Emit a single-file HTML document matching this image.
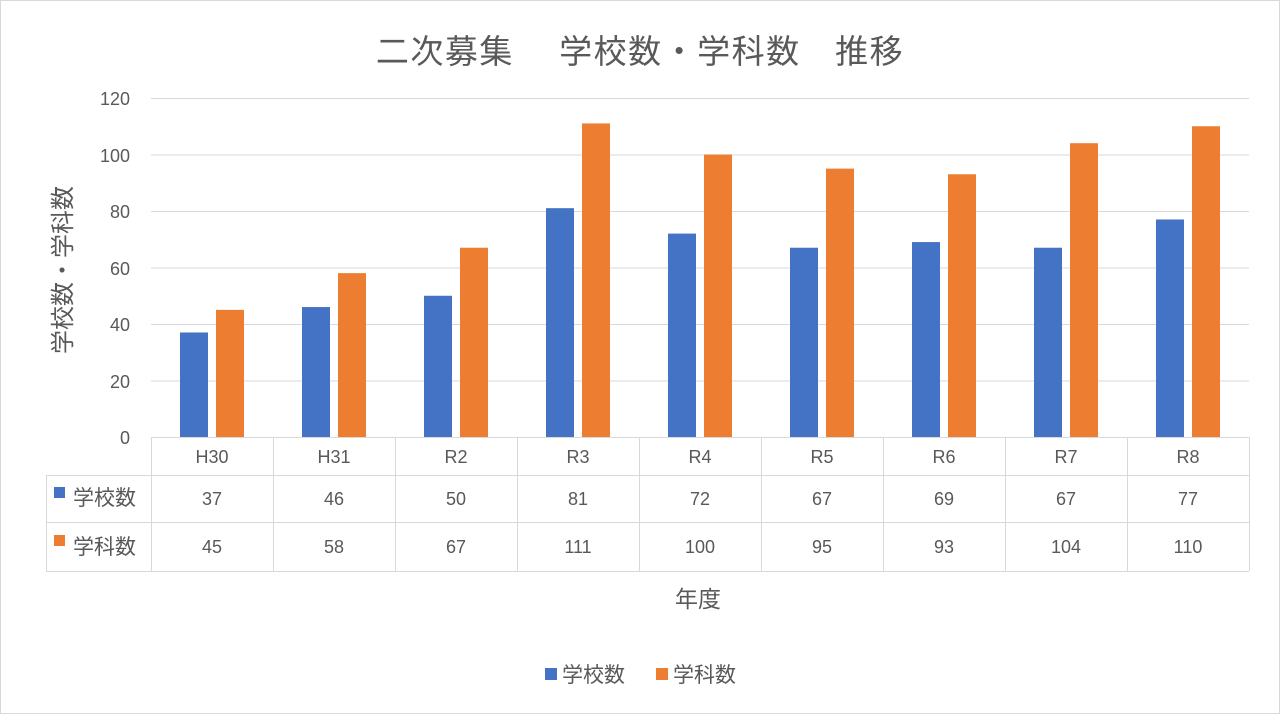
<!DOCTYPE html>
<html><head><meta charset="utf-8"><style>
body{margin:0;background:#fff}
svg text{font-family:"Liberation Sans","Noto Sans CJK JP",sans-serif;fill:#595959}
</style></head><body>
<svg width="1280" height="714" xmlns="http://www.w3.org/2000/svg">
<rect x="0.5" y="0.5" width="1279" height="713" fill="#fff" stroke="#d9d9d9"/>
<text x="640" y="63" font-size="33" text-anchor="middle" letter-spacing="1.5">二次募集　 学校数・学科数　推移</text>
<g stroke="#d9d9d9" stroke-width="1">
<line x1="151" y1="98.5" x2="1249" y2="98.5"/>
<line x1="151" y1="155" x2="1249" y2="155"/>
<line x1="151" y1="211.5" x2="1249" y2="211.5"/>
<line x1="151" y1="268" x2="1249" y2="268"/>
<line x1="151" y1="324.5" x2="1249" y2="324.5"/>
<line x1="151" y1="381" x2="1249" y2="381"/>
</g>
<g font-size="18" text-anchor="end">
<text x="130" y="444">0</text><text x="130" y="388">20</text><text x="130" y="331">40</text><text x="130" y="275">60</text><text x="130" y="218">80</text><text x="130" y="162">100</text><text x="130" y="105">120</text>
</g>
<text transform="translate(71,270) rotate(-90)" font-size="24" text-anchor="middle">学校数・学科数</text>
<g id="bars"></g>
<g stroke="#d9d9d9" stroke-width="1" fill="none">
<line x1="151" y1="437.5" x2="1249" y2="437.5"/>
<line x1="46" y1="475.5" x2="1249" y2="475.5"/>
<line x1="46" y1="522.5" x2="1249" y2="522.5"/>
<line x1="46" y1="571.5" x2="1249" y2="571.5"/>
<line x1="46.5" y1="475" x2="46.5" y2="571"/>
<line x1="1249.5" y1="437" x2="1249.5" y2="571"/>
</g>
<g id="tbl" font-size="18" text-anchor="middle"></g>
<rect x="54" y="487" width="11" height="11" fill="#4472c4"/>
<text x="73" y="505" font-size="21">学校数</text>
<rect x="54" y="535" width="11" height="11" fill="#ed7d31"/>
<text x="73" y="554" font-size="21">学科数</text>
<text x="698" y="607" font-size="23" text-anchor="middle">年度</text>
<rect x="545" y="668" width="12" height="12" fill="#4472c4"/>
<text x="562" y="682" font-size="21">学校数</text>
<rect x="656" y="668" width="12" height="12" fill="#ed7d31"/>
<text x="673" y="682" font-size="21">学科数</text>
<script>
var cats=["H30","H31","R2","R3","R4","R5","R6","R7","R8"],a=[37,46,50,81,72,67,69,67,77],b=[45,58,67,111,100,95,93,104,110];
var ns="http://www.w3.org/2000/svg",bars=document.getElementById("bars"),tbl=document.getElementById("tbl"),s=document.querySelector("svg");
function el(t,at,p,txt){var e=document.createElementNS(ns,t);for(var k in at)e.setAttribute(k,at[k]);if(txt!=null)e.textContent=txt;p.appendChild(e);}
for(var i=0;i<9;i++){var c=151+122*i+61;
el("rect",{x:c-32,y:437-a[i]*2.825,width:28,height:a[i]*2.825,fill:"#4472c4"},bars);
el("rect",{x:c+4,y:437-b[i]*2.825,width:28,height:b[i]*2.825,fill:"#ed7d31"},bars);
el("text",{x:c,y:463},tbl,cats[i]);el("text",{x:c,y:505},tbl,a[i]);el("text",{x:c,y:553},tbl,b[i]);
el("line",{x1:151+122*i+0.5,y1:437,x2:151+122*i+0.5,y2:571,stroke:"#d9d9d9"},s);}
</script>
</svg>
</body></html>
